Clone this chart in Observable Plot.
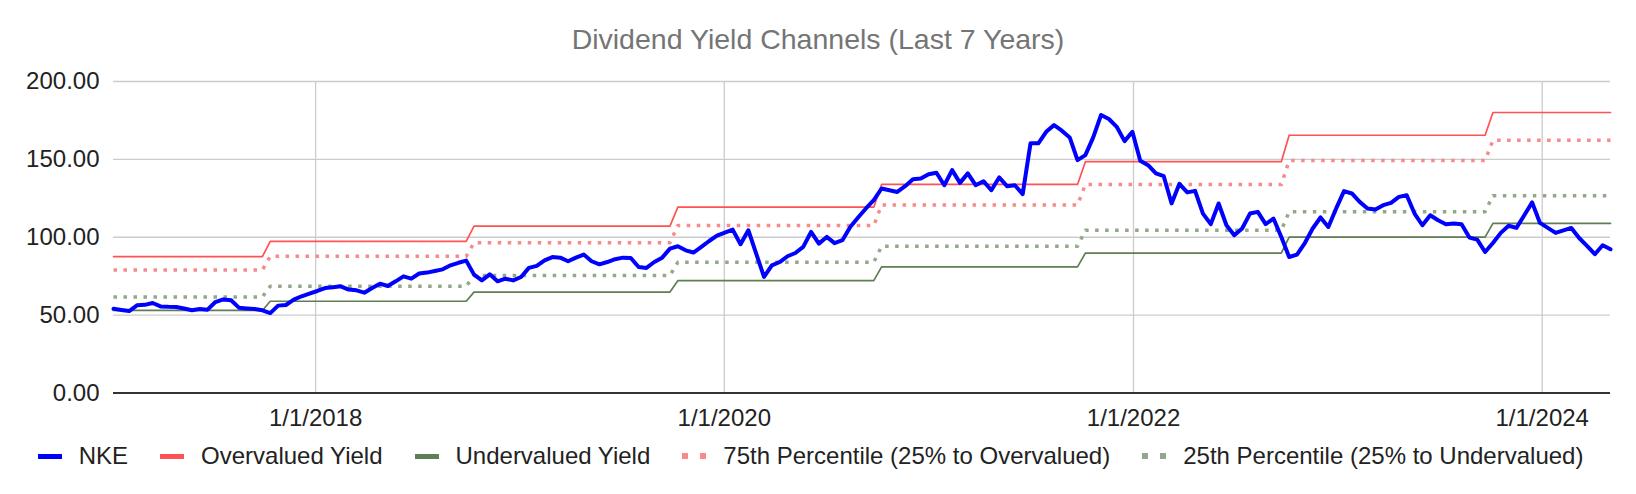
<!DOCTYPE html>
<html>
<head>
<meta charset="utf-8">
<script src="https://cdn.jsdelivr.net/npm/d3@7"></script>
<script src="https://cdn.jsdelivr.net/npm/@observablehq/plot@0.6"></script>
<style>
  html, body { margin: 0; padding: 0; background: #fff; }
  #wrap { position: relative; width: 1636px; height: 494px; font-family: "Liberation Sans", Arial, sans-serif; }
  #title { position: absolute; left: 0; top: 22.6px; width: 1636px; text-align: center; font-size: 28.5px; line-height: 32px; color: #757575; }
  #chart { position: absolute; left: 0; top: 60px; }
  #legend { position: absolute; left: 37.7px; top: 441px; display: flex; justify-content: flex-start; align-items: center; font-size: 24px; line-height: 30px; color: #222; white-space: nowrap; }
  .item { display: flex; align-items: center; margin-right: 32px; }
  .sw { width: 24px; height: 5px; margin-right: 17px; }
  .dots { width: 24px; height: 6px; margin-right: 17px; display: flex; justify-content: space-between; }
  .dots span { width: 6px; height: 6px; display: block; }
</style>
</head>
<body>
<div id="wrap">
  <div id="title">Dividend Yield Channels (Last 7 Years)</div>
  <div id="chart"></div>
  <div id="legend"></div>
</div>
<script>
// ---- data ----
const seriesStart = "2017-01-05";   // first biweekly observation
const sampleStepDays = 14;

const nkeValues = [
  54.1, 53.3, 52.6, 56.3, 56.6, 57.8, 55.6, 55.3, 55.2, 54.2,
  53.1, 53.9, 53.5, 58.4, 60.1, 59.5, 54.8, 54.3, 53.9, 53.1,
  51.3, 56.1, 56.5, 59.9, 62.1, 63.8, 65.5, 67.4, 67.9, 68.5,
  66.4, 65.9, 64.4, 67.4, 70.2, 68.7, 71.7, 74.9, 73.4, 76.7,
  77.3, 78.3, 79.4, 82.0, 83.6, 85.0, 76.0, 72.3, 76.2, 71.7,
  73.4, 72.3, 74.5, 80.3, 81.6, 85.2, 87.3, 86.9, 84.6, 86.9,
  88.9, 84.6, 82.6, 84.1, 85.9, 86.9, 86.7, 80.9, 80.3, 84.1,
  86.9, 92.7, 94.2, 91.6, 90.2, 93.8, 97.6, 101.0, 103.0, 104.9,
  95.5, 104.5, 89.5, 74.5, 82.0, 84.1, 87.8, 89.9, 93.8, 103.4,
  95.9, 100.2, 96.2, 98.1, 106.6, 112.7, 118.5, 123.8, 131.3, 130.2,
  129.1, 132.8, 137.3, 137.7, 140.5, 141.4, 133.4, 143.1, 134.9, 141.0,
  133.4, 136.0, 130.2, 138.4, 132.8, 133.4, 127.7, 160.3, 160.3, 167.7,
  172.0, 168.4, 164.1, 149.5, 152.7, 164.1, 178.5, 175.9, 170.9, 161.7,
  167.7, 149.1, 146.3, 141.0, 139.2, 121.7, 134.3, 128.8, 129.8, 115.2,
  108.4, 121.7, 107.7, 101.3, 105.6, 115.2, 116.3, 108.4, 112.0, 100.2,
  87.3, 88.9, 96.3, 105.6, 112.7, 106.6, 118.5, 129.6, 128.1, 122.7,
  118.5, 117.8, 120.6, 122.1, 125.9, 127.0, 115.2, 107.7, 114.1, 110.9,
  108.4, 108.8, 108.4, 99.8, 98.5, 90.5, 96.3, 102.8, 107.4, 106.0,
  114.1, 122.4, 109.2, 106.0, 102.8, 104.4, 106.0, 99.5, 94.5, 89.1,
  94.9, 92.3
];

// dates on which each channel steps to its next level
const levelChangeDates = ["2017-10-12", "2018-10-11", "2019-10-10", "2020-10-08", "2021-10-07", "2022-10-06", "2023-10-05"];
const overvaluedLevels  = [87.6, 97.4, 107.1, 119.3, 133.9, 148.5, 165.5, 180.1];
const undervaluedLevels = [53.0, 58.9, 64.8, 72.1, 81.0, 89.8, 100.1, 108.9];
const p75Levels         = [79.0, 87.8, 96.5, 107.5, 120.7, 133.8, 149.2, 162.3];
const p25Levels         = [61.7, 68.5, 75.4, 83.9, 94.2, 104.5, 116.4, 126.7];

const yTicks = [0, 50, 100, 150, 200];
const xTickDates  = ["2018-01-01", "2020-01-01", "2022-01-01", "2024-01-01"];
const xTickLabels = ["1/1/2018", "1/1/2020", "1/1/2022", "1/1/2024"];

const seriesNames = ["NKE", "Overvalued Yield", "Undervalued Yield", "75th Percentile (25% to Overvalued)", "25th Percentile (25% to Undervalued)"];
const seriesColors = ["#0000ff", "#ff5353", "#5e7e53", "#f78a8a", "#93a88a"];

// ---- build table ----
const start = new Date(seriesStart);
const changes = levelChangeDates.map(d => new Date(d));
const rows = nkeValues.map((v, i) => {
  const date = d3.utcDay.offset(start, i * sampleStepDays);
  const k = d3.bisectRight(changes, date);
  return { date, nke: v, over: overvaluedLevels[k], under: undervaluedLevels[k], p75: p75Levels[k], p25: p25Levels[k] };
});
const tickDates = xTickDates.map(d => new Date(d));
const labelOf = new Map(tickDates.map((d, i) => [+d, xTickLabels[i]]));

const chart = Plot.plot({
  width: 1636,
  height: 375,
  marginLeft: 113,
  marginRight: 26,
  marginTop: 21,
  marginBottom: 42.5,
  style: { fontFamily: "'Liberation Sans', Arial, sans-serif", fontSize: "24px", color: "#222", background: "#fff" },
  x: { type: "utc", domain: [rows[0].date, rows[rows.length - 1].date] },
  y: { domain: [0, 200] },
  marks: [
    Plot.gridY(yTicks.filter(t => t > 0), { stroke: "#cccccc", strokeOpacity: 1, strokeWidth: 1.3 }),
    Plot.gridX(tickDates, { stroke: "#cccccc", strokeOpacity: 1, strokeWidth: 1.3 }),
    Plot.axisY(yTicks, { tickSize: 0, tickPadding: 14, tickFormat: d3.format(".2f"), label: null, fill: "#222" }),
    Plot.axisX(tickDates, { tickSize: 0, tickPadding: 15.5, tickFormat: d => labelOf.get(+d), label: null, fill: "#222" }),
    Plot.ruleY([0], { stroke: "#333", strokeWidth: 2 }),
    Plot.line(rows, { x: "date", y: "over", stroke: seriesColors[1], strokeWidth: 1.7 }),
    Plot.line(rows, { x: "date", y: "under", stroke: seriesColors[2], strokeWidth: 1.7 }),
    Plot.line(rows, { x: "date", y: "p75", stroke: seriesColors[3], strokeWidth: 3.5, strokeDasharray: "3.5,6.5", strokeLinecap: "butt" }),
    Plot.line(rows, { x: "date", y: "p25", stroke: seriesColors[4], strokeWidth: 3.5, strokeDasharray: "3.5,6.5", strokeLinecap: "butt" }),
    Plot.line(rows, { x: "date", y: "nke", stroke: seriesColors[0], strokeWidth: 4, strokeLinejoin: "round" })
  ]
});
document.getElementById("chart").appendChild(chart);

// ---- legend ----
const legend = document.getElementById("legend");
seriesNames.forEach((name, i) => {
  const item = document.createElement("div");
  item.className = "item";
  const sw = document.createElement("span");
  if (i < 3) {
    sw.className = "sw";
    sw.style.background = seriesColors[i];
  } else {
    sw.className = "dots";
    for (let k = 0; k < 2; k++) {
      const s = document.createElement("span");
      s.style.background = seriesColors[i];
      sw.appendChild(s);
    }
  }
  item.appendChild(sw);
  const t = document.createElement("span");
  t.textContent = name;
  item.appendChild(t);
  legend.appendChild(item);
});
</script>
</body>
</html>
